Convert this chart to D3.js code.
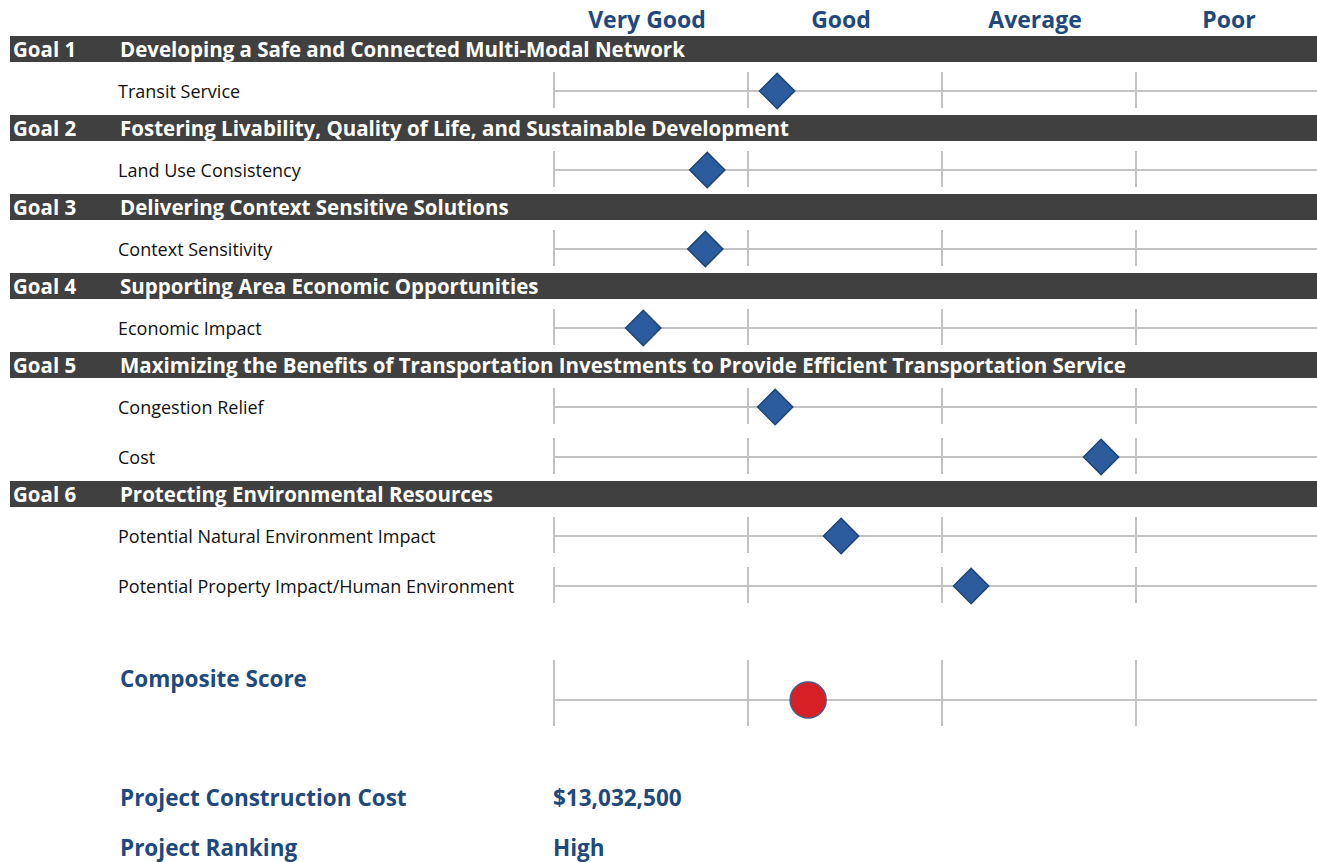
<!DOCTYPE html>
<html>
<head>
<meta charset="utf-8">
<script src="https://cdn.jsdelivr.net/npm/d3@7"></script>
<style>
  body { margin: 0; background: #fff; }
  svg text { font-family: "Open Sans", Lato, sans-serif; }
</style>
</head>
<body>
<svg id="drawing_region"></svg>
<script>
// rating columns, left to right
const ratings = ['Very Good', 'Good', 'Average', 'Poor'];

const goalNames = ['Goal 1', 'Goal 2', 'Goal 3', 'Goal 4', 'Goal 5', 'Goal 6'];
const goalTitles = [
    'Developing a Safe and Connected Multi-Modal Network',
    'Fostering Livability, Quality of Life, and Sustainable Development',
    'Delivering Context Sensitive Solutions',
    'Supporting Area Economic Opportunities',
    'Maximizing the Benefits of Transportation Investments to Provide Efficient Transportation Service',
    'Protecting Environmental Resources'
];

// criteria, the goal each belongs to, and its score (0 = left edge of Very Good, 4 = right edge of Poor)
const criteria = [
    'Transit Service', 'Land Use Consistency', 'Context Sensitivity', 'Economic Impact',
    'Congestion Relief', 'Cost', 'Potential Natural Environment Impact',
    'Potential Property Impact/Human Environment'
];
const criteriaGoal = [0, 1, 2, 3, 4, 4, 5, 5];
const scores = [1.15, 0.79, 0.78, 0.46, 1.14, 2.82, 1.48, 2.15];

const compositeLabel = 'Composite Score';
const compositeScore = 1.31;

const summaryLabels = ['Project Construction Cost', 'Project Ranking'];
const summaryValues = ['$13,032,500', 'High'];

const config = {
    width: 1317,
    height: 862,
    goalTop: 36,
    goalH: 26,
    firstRow: 29,
    rowStep: 50,
    afterRow: 24
};

const svg = d3.select('#drawing_region')
    .attr('width', config.width)
    .attr('height', config.height);

const xscale = d3.scaleLinear()
    .domain([0, ratings.length])
    .range([554, 1330]);

// work out vertical layout: goal bars and criterion rows
let y = config.goalTop;
const goalY = [];
const rowY = [];
goalNames.forEach((g, gi) => {
    goalY.push(y);
    y += config.goalH + config.firstRow;
    criteria.forEach((c, ci) => {
        if (criteriaGoal[ci] !== gi) return;
        if (rowY.length && criteriaGoal[ci - 1] === gi) y += config.rowStep;
        rowY[ci] = y;
    });
    y += config.afterRow;
});

const blue = '#1f497d';
const grid = '#c3c3c3';

// column headers
svg.append('g').selectAll('text')
    .data(ratings)
    .join('text')
    .attr('x', (d, i) => xscale(i + 0.5) - 4)
    .attr('y', 28)
    .attr('text-anchor', 'middle')
    .attr('fill', blue)
    .attr('font-weight', 'bold')
    .attr('font-size', 23)
    .text(d => d);

// goal bars
const goals = svg.append('g').selectAll('g')
    .data(goalNames)
    .join('g')
    .attr('transform', (d, i) => `translate(0, ${goalY[i]})`);

goals.append('rect')
    .attr('x', 10)
    .attr('width', config.width - 10)
    .attr('height', config.goalH)
    .attr('fill', '#404040');

goals.append('text')
    .attr('x', 13)
    .attr('y', 21)
    .attr('fill', '#fff')
    .attr('font-weight', 'bold')
    .attr('font-size', 20.5)
    .text(d => d);

goals.append('text')
    .attr('x', 120)
    .attr('y', 21)
    .attr('fill', '#fff')
    .attr('font-weight', 'bold')
    .attr('font-size', 20.5)
    .text((d, i) => goalTitles[i]);

// a rating track: horizontal line plus column dividers
function track(g, top, bottom) {
    g.append('line')
        .attr('x1', xscale(0)).attr('x2', config.width)
        .attr('y1', 0).attr('y2', 0)
        .attr('stroke', grid).attr('stroke-width', 2);
    g.selectAll('line.div')
        .data(d3.range(ratings.length))
        .join('line')
        .attr('class', 'div')
        .attr('x1', d => xscale(d)).attr('x2', d => xscale(d))
        .attr('y1', top).attr('y2', bottom)
        .attr('stroke', grid).attr('stroke-width', 2);
}

const rows = svg.append('g').selectAll('g')
    .data(criteria)
    .join('g')
    .attr('transform', (d, i) => `translate(0, ${rowY[i]})`);

rows.append('text')
    .attr('x', 118)
    .attr('y', 7)
    .attr('fill', '#111')
    .attr('font-size', 18)
    .text(d => d);

rows.each(function() { track(d3.select(this), -19, 17); });

rows.append('path')
    .attr('d', d3.symbol(d3.symbolSquare, 620))
    .attr('transform', (d, i) => `translate(${xscale(scores[i])}, 0) rotate(45)`)
    .attr('fill', '#2c5c9e')
    .attr('stroke', '#1d4578')
    .attr('stroke-width', 1.5);

// composite score
const compY = 700;
svg.append('text')
    .attr('x', 120)
    .attr('y', 687)
    .attr('fill', blue)
    .attr('font-weight', 'bold')
    .attr('font-size', 22.5)
    .text(compositeLabel);

const comp = svg.append('g').attr('transform', `translate(0, ${compY})`);
track(comp, -40, 26);
comp.append('circle')
    .attr('cx', xscale(compositeScore))
    .attr('cy', 0)
    .attr('r', 18)
    .attr('fill', '#d71f26')
    .attr('stroke', '#4b5a82')
    .attr('stroke-width', 1.5);

// project summary
const summary = svg.append('g').selectAll('g')
    .data(summaryLabels)
    .join('g')
    .attr('transform', (d, i) => `translate(0, ${806 + i * 50})`);

summary.append('text')
    .attr('x', 120)
    .attr('fill', blue)
    .attr('font-weight', 'bold')
    .attr('font-size', 22.5)
    .text(d => d);

summary.append('text')
    .attr('x', 553)
    .attr('fill', blue)
    .attr('font-weight', 'bold')
    .attr('font-size', 22.5)
    .text((d, i) => summaryValues[i]);
</script>
</body>
</html>
